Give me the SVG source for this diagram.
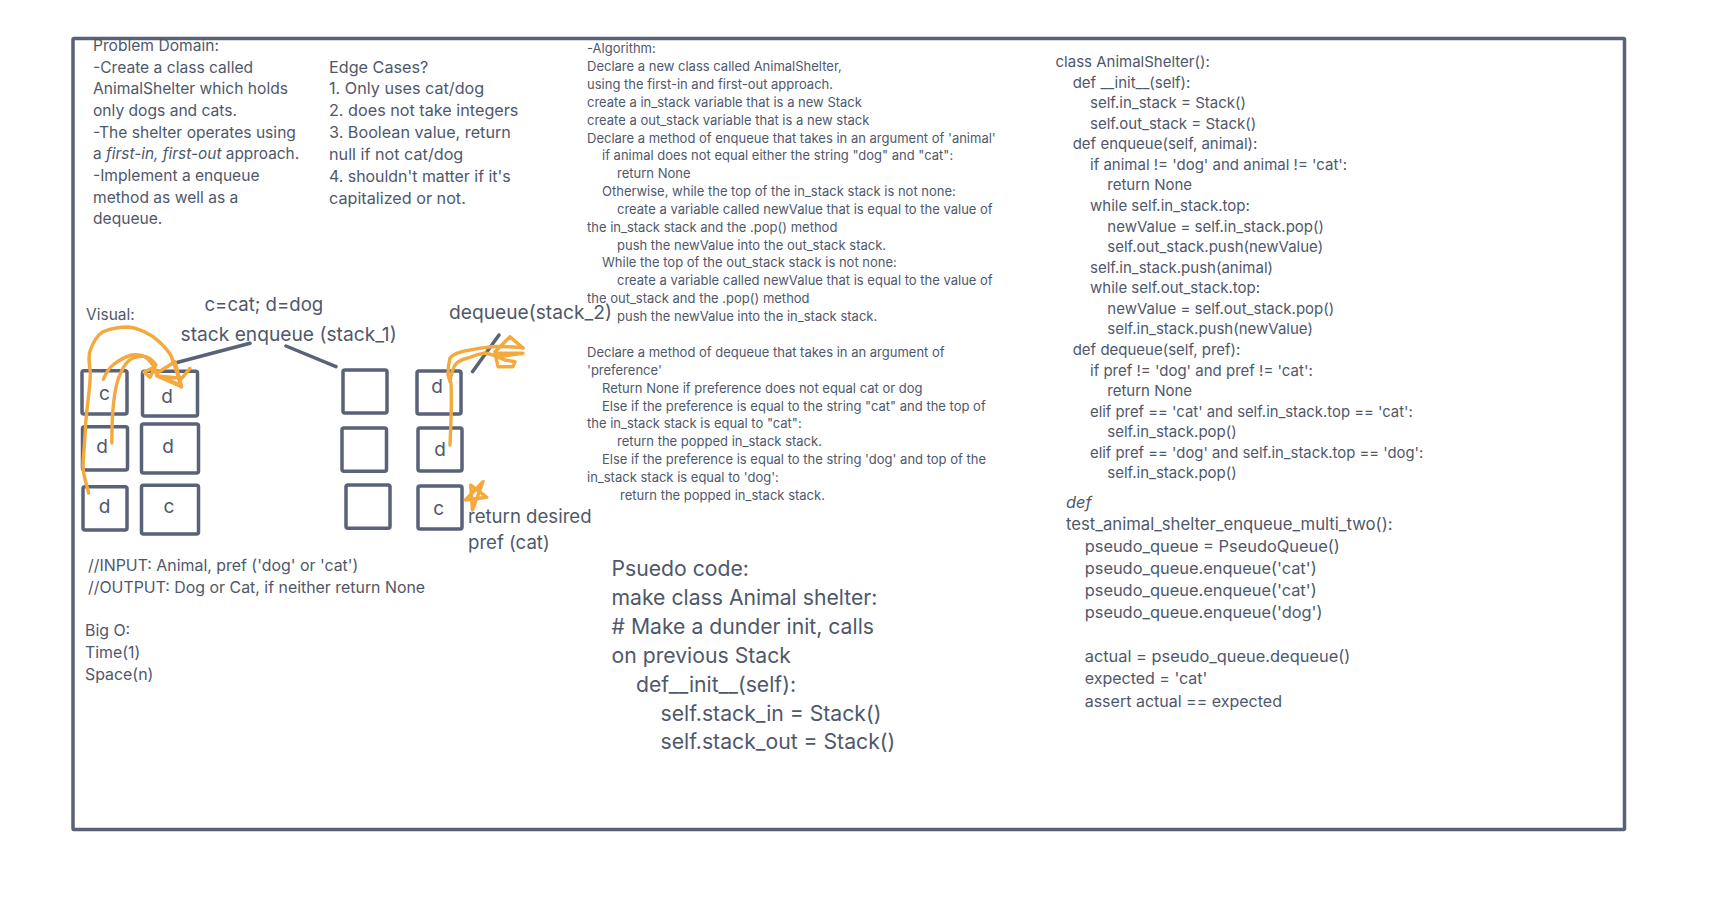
<svg xmlns="http://www.w3.org/2000/svg" width="1724" height="920" viewBox="0 0 1724 920">
<style>
text{font-family:"Inter","Liberation Sans",sans-serif;fill:#4f586b;white-space:pre}
.s{fill:#fff;stroke:#596277;stroke-width:3.5}
.l{fill:none;stroke:#596277;stroke-width:3.5;stroke-linecap:round}
.o{fill:none;stroke:#f5a83c;stroke-width:3.4;stroke-linecap:round;stroke-linejoin:round}
.a{font-size:15.6px}.e2{font-size:16.2px}.n{font-size:15.9px}.b{font-size:13px}.c{font-size:15px}.c2{font-size:14.85px}.t{font-size:16.4px}.d{font-size:21.2px}.f{font-size:19.2px}.g{font-size:18.6px}.m{font-size:19px}
</style>
<rect width="1724" height="920" fill="#fff"/>
<rect id="frame" x="73" y="38.5" width="1551.500" height="791" rx="1" fill="none" stroke="#596277" stroke-width="3.5"/>
<g id="problem" class="a"><text x="93" y="51">Problem Domain:</text><text x="93" y="72.500">-Create a class called</text><text x="93" y="94.300">AnimalShelter which holds</text><text x="93" y="116">only dogs and cats.</text><text x="93" y="137.700">-The shelter operates using</text><text x="93" y="159.300" font-size="15.400">a <tspan font-style="italic">first-in, first-out</tspan> approach.</text><text x="93" y="181">-Implement a enqueue</text><text x="93" y="202.600">method as well as a</text><text x="93" y="224.300">dequeue.</text></g>
<g id="edge" class="e2"><text x="329" y="72.500">Edge Cases?</text><text x="329" y="94.300">1. Only uses cat/dog</text><text x="329" y="116">2. does not take integers</text><text x="329" y="138">3. Boolean value, return</text><text x="329" y="160">null if not cat/dog</text><text x="329" y="182" font-size="15.900">4. shouldn't matter if it's</text><text x="329" y="204">capitalized or not.</text></g>
<g id="algo" class="b"><text x="587" y="53">-Algorithm:</text><text x="587" y="71">Declare a new class called AnimalShelter,</text><text x="587" y="89">using the first-in and first-out approach.</text><text x="587" y="107">create a in_stack variable that is a new Stack</text><text x="587" y="125">create a out_stack variable that is a new stack</text><text x="587" y="143">Declare a method of enqueue that takes in an argument of 'animal'</text><text x="602" y="160">if animal does not equal either the string "dog" and "cat":</text><text x="617" y="178">return None</text><text x="602" y="196">Otherwise, while the top of the in_stack stack is not none:</text><text x="617" y="214">create a variable called newValue that is equal to the value of</text><text x="587" y="232">the in_stack stack and the .pop() method</text><text x="617" y="250">push the newValue into the out_stack stack.</text><text x="602" y="267">While the top of the out_stack stack is not none:</text><text x="617" y="285">create a variable called newValue that is equal to the value of</text><text x="587" y="303">the out_stack and the .pop() method</text><text x="617" y="321">push the newValue into the in_stack stack.</text><text x="587" y="357">Declare a method of dequeue that takes in an argument of</text><text x="587" y="375">'preference'</text><text x="602" y="393">Return None if preference does not equal cat or dog</text><text x="602" y="411">Else if the preference is equal to the string "cat" and the top of</text><text x="587" y="428">the in_stack stack is equal to "cat":</text><text x="617" y="446">return the popped in_stack stack.</text><text x="602" y="464">Else if the preference is equal to the string 'dog' and top of the</text><text x="587" y="482">in_stack stack is equal to 'dog':</text><text x="620" y="500">return the popped in_stack stack.</text></g>
<g id="code" class="c"><text x="1055.500" y="67">class AnimalShelter():</text><text x="1072.700" y="87.500">def __init__(self):</text><text x="1090" y="108">self.in_stack = Stack()</text><text x="1090" y="129">self.out_stack = Stack()</text><text x="1072.700" y="149">def enqueue(self, animal):</text><text x="1090" y="170">if animal != 'dog' and animal != 'cat':</text><text x="1107.300" y="190">return None</text><text x="1090" y="211">while self.in_stack.top:</text><text x="1107.300" y="232">newValue = self.in_stack.pop()</text><text x="1107.300" y="252">self.out_stack.push(newValue)</text><text x="1090" y="273">self.in_stack.push(animal)</text><text x="1090" y="293">while self.out_stack.top:</text><text x="1107.300" y="314">newValue = self.out_stack.pop()</text><text x="1107.300" y="334">self.in_stack.push(newValue)</text><text x="1072.700" y="355">def dequeue(self, pref):</text><text x="1090" y="376">if pref != 'dog' and pref != 'cat':</text><text x="1107.300" y="396">return None</text><text class="c2" x="1090" y="417">elif pref == 'cat' and self.in_stack.top == 'cat':</text><text x="1107.300" y="437">self.in_stack.pop()</text><text class="c2" x="1090" y="458">elif pref == 'dog' and self.in_stack.top == 'dog':</text><text x="1107.300" y="478">self.in_stack.pop()</text></g>
<g id="test" class="t"><text x="1066" y="507.700" font-style="italic">def</text><text x="1066" y="530" font-size="16.700">test_animal_shelter_enqueue_multi_two():</text><text x="1084.700" y="551.700">pseudo_queue = PseudoQueue()</text><text x="1084.700" y="574.300">pseudo_queue.enqueue('cat')</text><text x="1084.700" y="596.300">pseudo_queue.enqueue('cat')</text><text x="1084.700" y="618.300">pseudo_queue.enqueue('dog')</text><text x="1084.700" y="662.300">actual = pseudo_queue.dequeue()</text><text x="1084.700" y="684.300" font-size="16">expected = 'cat'</text><text x="1084.700" y="706.700" font-size="16">assert actual == expected</text></g>
<g id="pseudo" class="d"><text x="611.500" y="576">Psuedo code:</text><text x="611.500" y="605">make class Animal shelter:</text><text x="611.500" y="634"># Make a dunder init, calls</text><text x="611.500" y="662.700">on previous Stack</text><text x="636" y="691.700">def__init__(self):</text><text x="660.500" y="720.700">self.stack_in = Stack()</text><text x="660.500" y="749.300">self.stack_out = Stack()</text></g>
<g id="notes" class="n"><text x="88" y="571">//INPUT: Animal, pref ('dog' or 'cat')</text><text x="88" y="593">//OUTPUT: Dog or Cat, if neither return None</text><text x="85" y="635.700">Big O:</text><text x="85" y="657.700">Time(1)</text><text x="85" y="680">Space(n)</text><text x="86" y="320" font-size="15.500">Visual:</text></g>
<g id="labels"><text class="g" x="204.500" y="311">c=cat; d=dog</text><text class="f" x="180.500" y="340.700">stack enqueue (stack_1)</text><text class="f" x="449" y="319">dequeue(stack_2)</text><text class="g" x="468" y="523.300">return desired</text><text class="g" x="468" y="549.300">pref (cat)</text></g>
<g id="conn"><path class="l" d="M176 362.700L250 343.300M286 346L336 366.700M472.500 371.700L499 335"/></g>
<g id="n1"><rect class="s" x="82" y="370.700" width="45" height="43.300" rx="2"/><text class="m" x="104.500" y="400" text-anchor="middle">c</text></g>
<g id="n2"><rect class="s" x="142.500" y="371.300" width="55" height="44.700" rx="2"/><text class="m" x="167" y="402.700" text-anchor="middle">d</text></g>
<g id="n3"><rect class="s" x="82.500" y="426.700" width="45" height="43.300" rx="2"/><text class="m" x="102" y="453" text-anchor="middle">d</text></g>
<g id="n4"><rect class="s" x="141.500" y="424" width="57" height="49" rx="2"/><text class="m" x="168" y="453" text-anchor="middle">d</text></g>
<g id="n5"><rect class="s" x="83" y="486.700" width="44" height="43.300" rx="2"/><text class="m" x="104.600" y="513" text-anchor="middle">d</text></g>
<g id="n6"><rect class="s" x="141.500" y="485.300" width="57" height="48.700" rx="2"/><text class="m" x="169" y="512.700" text-anchor="middle">c</text></g>
<g id="n7"><rect class="s" x="343" y="370" width="44" height="43" rx="2"/></g>
<g id="n8"><rect class="s" x="342" y="428" width="44.500" height="43.300" rx="2"/></g>
<g id="n9"><rect class="s" x="346" y="485" width="44" height="43.300" rx="2"/></g>
<g id="n10"><rect class="s" x="417" y="371" width="44" height="43" rx="2"/><text class="m" x="437" y="392.700" text-anchor="middle">d</text></g>
<g id="n11"><rect class="s" x="418" y="428" width="44" height="43" rx="2"/><text class="m" x="440" y="455.700" text-anchor="middle">d</text></g>
<g id="n12"><rect class="s" x="418" y="486" width="44" height="43" rx="2"/><text class="m" x="438.600" y="515" text-anchor="middle">c</text></g>
<g id="scribbles">
<path class="o" d="M88.600 493C86 482 82 472 83 463C84 450 85 438 85.700 423C87 405 90 390 90.400 373C89 362 88 355 90.400 350C94 340 98 335 103 331.700C112 328 120 327 128 327C138 328 146 332 153 336.700C160 342 166 348 170.700 355C175 365 178 376 181 387"/>
<path class="o" d="M111.800 443C112 428 112 415 113.600 403C115 390 117 380 120.700 373C124 365 128 360 133 358C138 356 142 356 145.700 356.700C150 358 153 361 156 365"/>
<path class="o" d="M103.300 379.300C106 373 109 368 113 365C119 360 125 357 131.700 355C137 354 141 355 145 356.700C149 359 151 362 153 365C155 368 156 372 156.700 375"/>
<path class="o" d="M144 372.300L155 366.700L150 377.300L144 372.300M156.700 373.300L175 361.700L181.700 386.700L156.700 376L181.700 378.300L190 368.300M165 378.300L180 385"/>
<path class="o" d="M450 445C451 425 452 405 451 383C449 378 448 376 448 375C448 368 449 362 450 358C453 354 457 353 461.700 351.700C472 349 482 348 491.700 346.700C502 346 512 347 523 347.700"/>
<path class="o" d="M450 381.700C451 375 452 370 455 365C458 361 463 359 468 358C473 356 479 354 485 353C492 354 498 357 505 360L515 361.700L513 366.700L498 366.700L495 353L523 353.300L498 356.700M510 336.700L505 341.700L495 351.700M510 336.700L523 348"/>
<path class="o" d="M465.400 500L486.800 497.300L470.700 485L472.500 510L483 481.700L465.400 500Z" stroke-width="4"/>
</g>
</svg>
